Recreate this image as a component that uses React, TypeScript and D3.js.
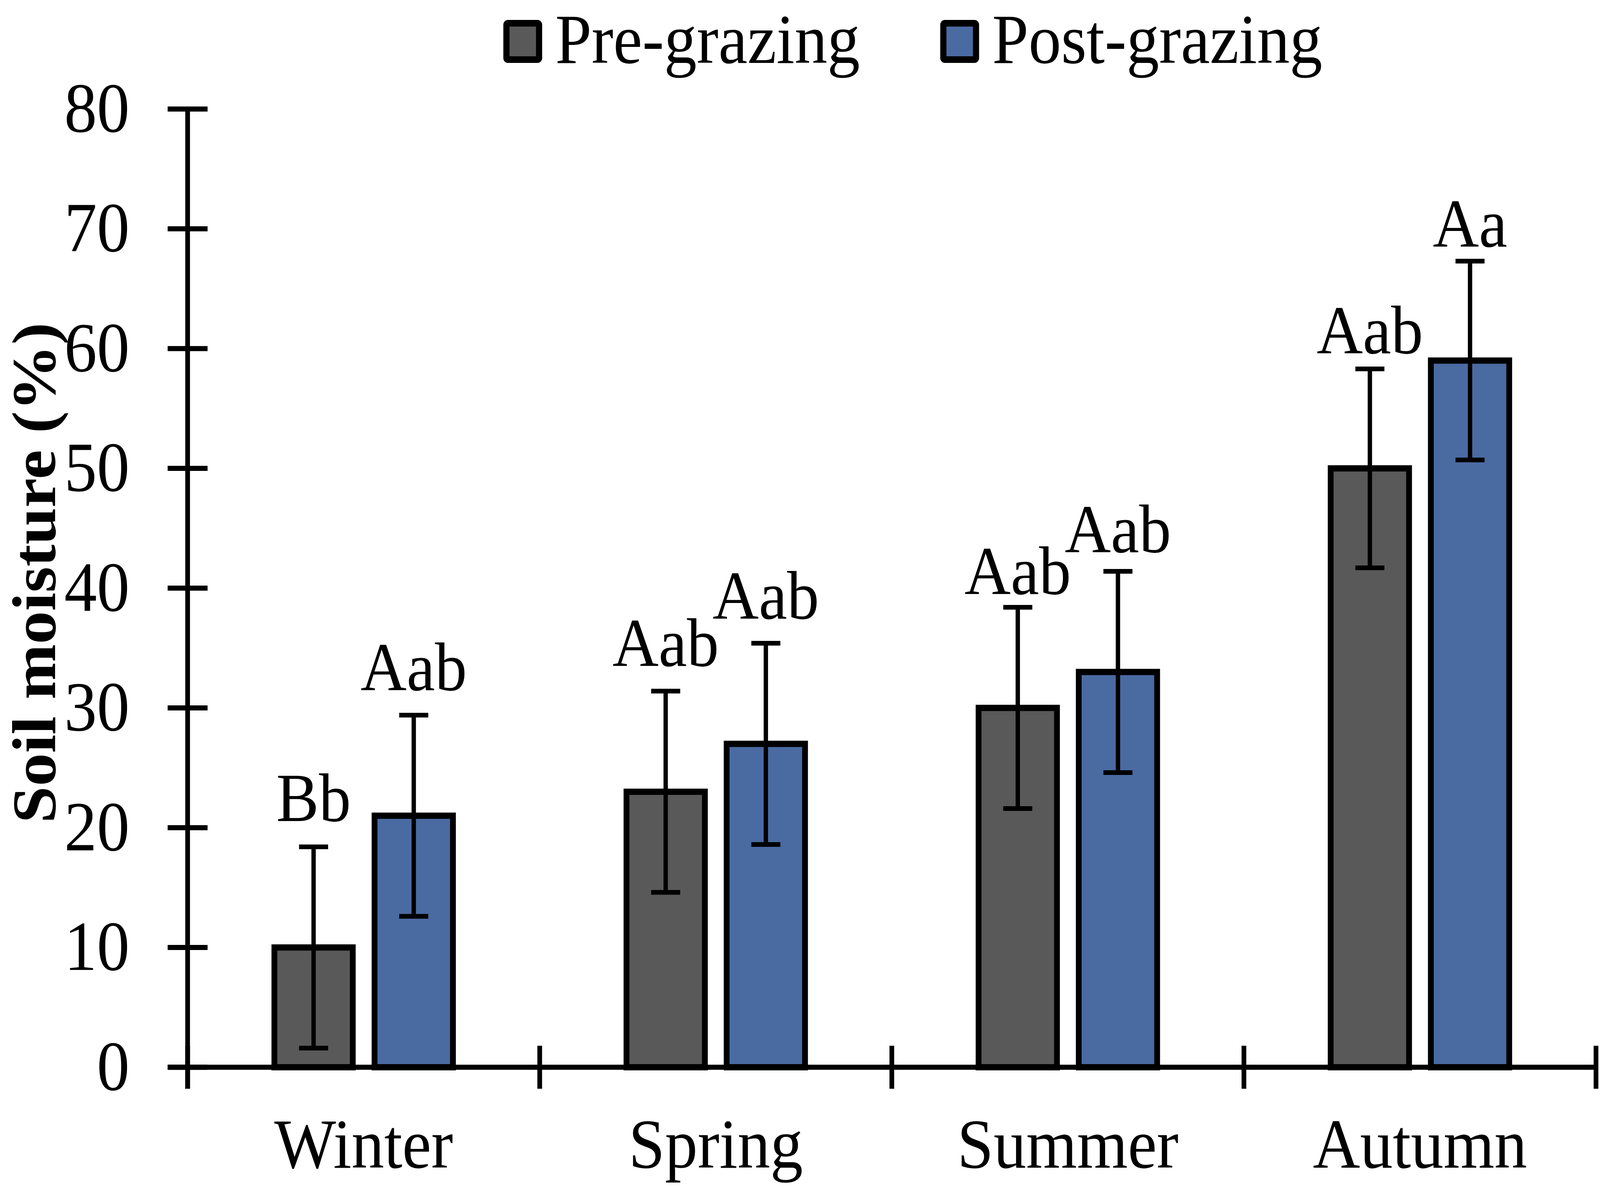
import React from "react";
import * as d3 from "d3";

const seasons = ["Winter", "Spring", "Summer", "Autumn"];
const seriesNames = ["Pre-grazing", "Post-grazing"];
const preMeans = [10, 23, 30, 50];
const postMeans = [21, 27, 33, 59];
const preErr = [8.4, 8.4, 8.4, 8.3];
const postErr = [8.4, 8.4, 8.4, 8.3];
const preLetters = ["Bb", "Aab", "Aab", "Aab"];
const postLetters = ["Aab", "Aab", "Aab", "Aa"];
// gap between error cap and letter baseline, in % units
const preLetterGap = [2.15, 2.1, 1.1, 1.3];
const postLetterGap = [2.1, 2.05, 1.6, 1.2];
const yTicks = [0, 10, 20, 30, 40, 50, 60, 70, 80];

// drawing is laid out on the reference's 4409x3040 grid and scaled to the window
const W = 4409;
const H = 3040;
const COLORS = ["#595959", "#4A6AA2"];
const FONT = "'Liberation Serif', 'Times New Roman', serif";

export default function App() {
  const y = d3.scaleLinear().domain([0, 80]).range([2731, 279]);
  const x0 = d3.scaleBand<string>().domain(seasons).range([517, 4398]);
  const groupW = 492;
  const x1 = d3
    .scaleBand<string>()
    .domain(seriesNames)
    .range([0, groupW])
    .paddingInner(0.2174);
  const groupOffset = (x0.bandwidth() - groupW) / 2;

  const series = [
    { name: seriesNames[0], means: preMeans, err: preErr, letters: preLetters, gap: preLetterGap, color: COLORS[0] },
    { name: seriesNames[1], means: postMeans, err: postErr, letters: postLetters, gap: postLetterGap, color: COLORS[1] },
  ];

  const bw = x1.bandwidth();
  const tickLen = 55;
  const bandEdges = [...seasons.map((s) => x0(s) as number), x0.range()[1]];
  const legendTop = 36;

  return (
    <svg
      viewBox={`0 0 ${W} ${H}`}
      preserveAspectRatio="none"
      style={{ position: "absolute", left: 0, top: 0, width: "100vw", height: "100vh", display: "block" }}
      fontFamily={FONT}
    >
      <rect x={0} y={0} width={W} height={H} fill="#fff" />

      {/* axes */}
      <g stroke="#000" strokeWidth={13}>
        <line x1={517} x2={517} y1={y(80)} y2={y(0) + tickLen} />
        <line x1={517 - tickLen} x2={x0.range()[1]} y1={y(0)} y2={y(0)} />
        {yTicks.map((t) => (
          <line key={t} x1={517 - tickLen} x2={517 + tickLen} y1={y(t)} y2={y(t)} />
        ))}
        {bandEdges.map((e, i) => (
          <line key={i} x1={e} x2={e} y1={y(0) - tickLen} y2={y(0) + tickLen} />
        ))}
      </g>

      {/* y tick labels */}
      {yTicks.map((t) => (
        <text key={t} x={357} y={y(t)} dy="0.32em" textAnchor="end" fontSize={180} fill="#000">
          {t}
        </text>
      ))}

      {/* bars */}
      {series.map((s) =>
        seasons.map((c, i) => {
          const bx = (x0(c) as number) + groupOffset + (x1(s.name) as number);
          return (
            <rect
              key={s.name + c}
              x={bx}
              y={y(s.means[i])}
              width={bw}
              height={y(0) - y(s.means[i])}
              fill={s.color}
              stroke="#000"
              strokeWidth={16}
            />
          );
        })
      )}

      {/* error bars and letters */}
      {series.map((s) =>
        seasons.map((c, i) => {
          const cx = (x0(c) as number) + groupOffset + (x1(s.name) as number) + bw / 2;
          const top = y(s.means[i] + s.err[i]);
          const bot = y(s.means[i] - s.err[i]);
          return (
            <g key={"e" + s.name + c}>
              <g stroke="#000" strokeWidth={12}>
                <line x1={cx} x2={cx} y1={top} y2={bot} />
                <line x1={cx - 40} x2={cx + 40} y1={top} y2={top} />
                <line x1={cx - 40} x2={cx + 40} y1={bot} y2={bot} />
              </g>
              <text
                x={cx}
                y={y(s.means[i] + s.err[i] + s.gap[i])}
                textAnchor="middle"
                fontSize={176}
                fill="#000"
              >
                {s.letters[i]}
              </text>
            </g>
          );
        })
      )}

      {/* category labels */}
      {seasons.map((c) => (
        <text
          key={c}
          x={(x0(c) as number) + x0.bandwidth() / 2}
          y={2988}
          textAnchor="middle"
          fontSize={180}
          fill="#000"
        >
          {c}
        </text>
      ))}

      {/* y title */}
      <text
        transform="translate(152,1466) rotate(-90)"
        textAnchor="middle"
        fontSize={170}
        fontWeight="bold"
        fill="#000"
      >
        Soil moisture (%)
      </text>

      {/* legend */}
      {series.map((s, i) => {
        const lx = i === 0 ? 1387 : 2591;
        return (
          <g key={"lg" + s.name} transform={`translate(0,${legendTop})`}>
            <rect
              x={lx + 8.5}
              y={23.5}
              width={90}
              height={93}
              rx={4}
              fill={s.color}
              stroke="#000"
              strokeWidth={17}
            />
            <text x={lx + 143} y={125} fontSize={180} fill="#000">
              {s.name}
            </text>
          </g>
        );
      })}
    </svg>
  );
}
